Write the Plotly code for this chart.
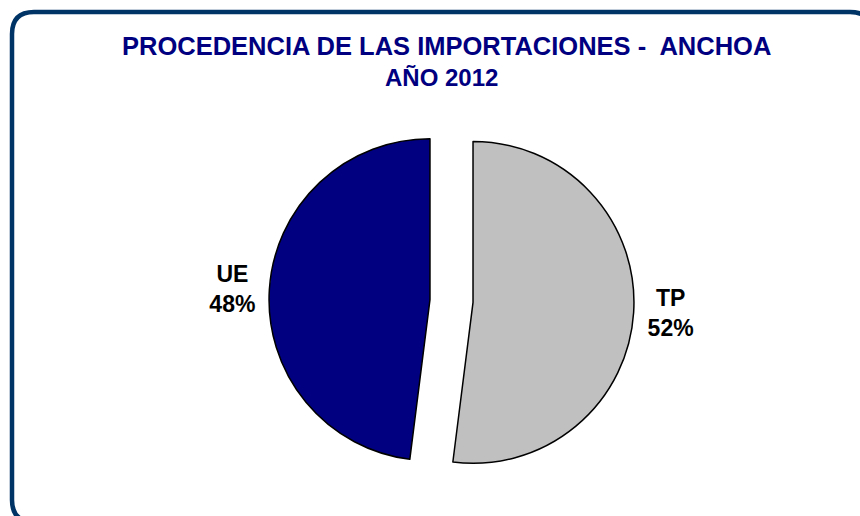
import plotly.graph_objects as go

# Data
categories = ["TP", "UE"]
values = [52, 48]
colors = ["#C0C0C0", "#000080"]
pulls = [0.134, 0.134]

title_line1 = "PROCEDENCIA DE LAS IMPORTACIONES -  ANCHOA"
title_line2 = "AÑO 2012"

W, H = 860, 516
FONT = "Liberation Sans, Arial, sans-serif"

def px_x(x):
    return x / W

def px_y(y):
    return 1 - y / H

# pie box in pixels
cx, cy, side = 451.5, 301, 365

fig = go.Figure()
fig.add_trace(go.Pie(
    labels=categories,
    values=values,
    sort=False,
    direction="clockwise",
    rotation=0,
    pull=pulls,
    marker=dict(colors=colors, line=dict(color="black", width=1.5)),
    textposition="outside",
    texttemplate="<b>%{label}<br>%{percent:.0%}</b>",
    textfont=dict(family=FONT, size=23, color="black"),
    showlegend=False,
    hoverinfo="label+percent",
    domain=dict(x=[px_x(cx - side / 2), px_x(cx + side / 2)],
                y=[px_y(cy + side / 2), px_y(cy - side / 2)]),
))

# rounded border (extends past right/bottom edges as in the reference)
x0, y0, x1, y1 = 12, 12, 872, 522
r = 22
rx, ry = r / W, r / H
X0, X1 = px_x(x0), px_x(x1)
Y0, Y1 = px_y(y0), px_y(y1)
path = (f"M {X0+rx},{Y0} L {X1-rx},{Y0} Q {X1},{Y0} {X1},{Y0-ry} "
        f"L {X1},{Y1+ry} Q {X1},{Y1} {X1-rx},{Y1} "
        f"L {X0+rx},{Y1} Q {X0},{Y1} {X0},{Y1+ry} "
        f"L {X0},{Y0-ry} Q {X0},{Y0} {X0+rx},{Y0} Z")
fig.add_shape(type="path", path=path, xref="paper", yref="paper",
              line=dict(color="#003366", width=4.5))

fig.add_annotation(
    text=f"<b>{title_line1}</b>",
    xref="paper", yref="paper", x=px_x(446.5), y=px_y(46), yanchor="middle",
    xanchor="center", showarrow=False,
    font=dict(family=FONT, size=25.5, color="#000080"),
)
fig.add_annotation(
    text=f"<b>{title_line2}</b>",
    xref="paper", yref="paper", x=px_x(442), y=px_y(77), yanchor="middle",
    xanchor="center", showarrow=False,
    font=dict(family=FONT, size=24, color="#000080"),
)

fig.update_layout(
    width=W, height=H,
    margin=dict(l=0, r=0, t=0, b=0),
    paper_bgcolor="white",
    plot_bgcolor="white",
)

fig.write_html("out.html", config={"displayModeBar": False},
               post_script="document.body.style.margin='0';")
